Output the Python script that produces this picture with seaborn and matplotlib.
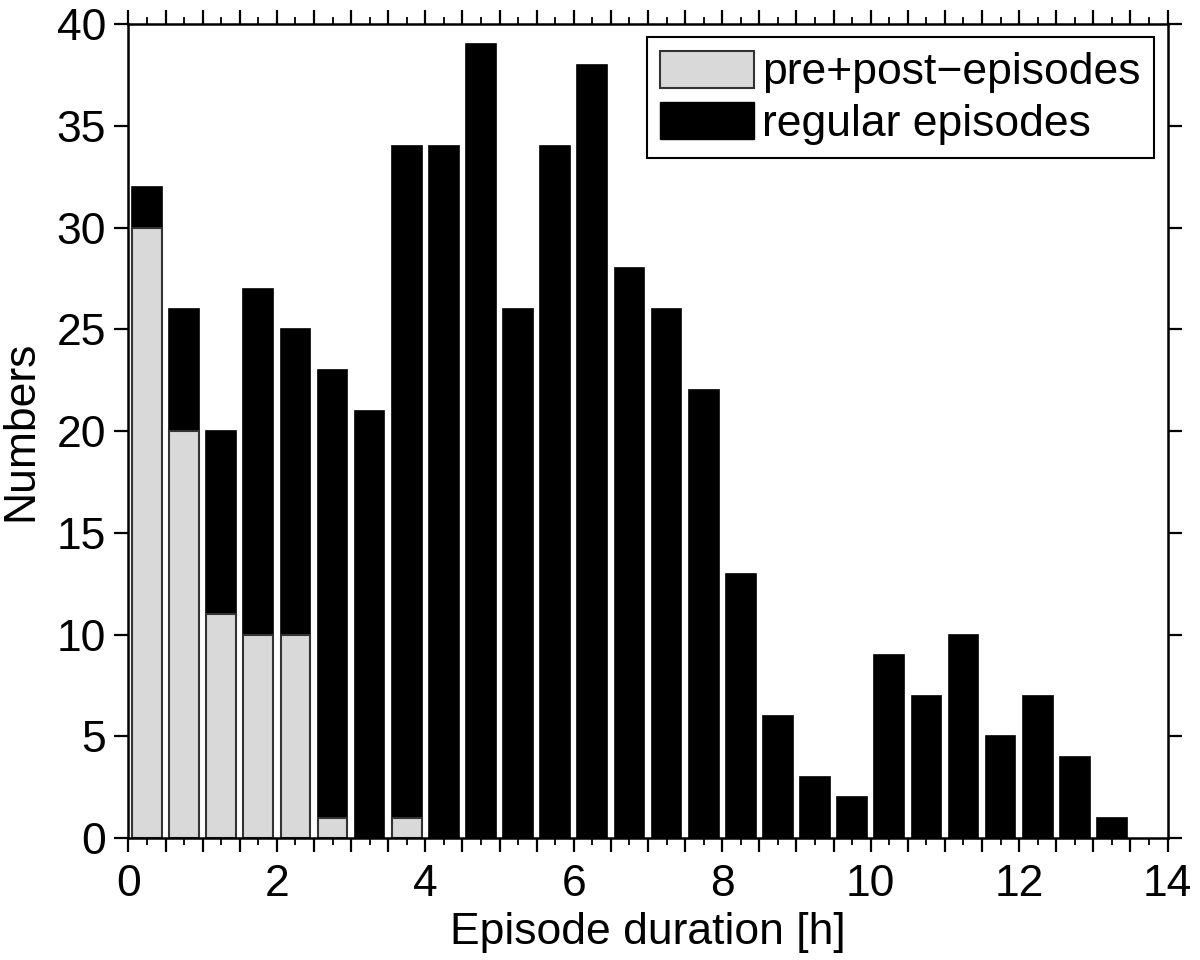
import numpy as np
import seaborn as sns
import matplotlib.pyplot as plt
from matplotlib.patches import Patch
from matplotlib.ticker import MultipleLocator, FuncFormatter

# episode duration bins (hours, bin centres, 0.5 h wide)
bin_centres = [0.25, 0.75, 1.25, 1.75, 2.25, 2.75, 3.25, 3.75, 4.25, 4.75,
               5.25, 5.75, 6.25, 6.75, 7.25, 7.75, 8.25, 8.75, 9.25, 9.75,
               10.25, 10.75, 11.25, 11.75, 12.25, 12.75, 13.25]
# total count per bin (regular + pre/post)
total_counts = [32, 26, 20, 27, 25, 23, 21, 34, 34, 39, 26, 34, 38, 28, 26,
                22, 13, 6, 3, 2, 9, 7, 10, 5, 7, 4, 1]
# pre+post-episode count per bin
pre_post_counts = [30, 20, 11, 10, 10, 1, 0, 1, 0, 0, 0, 0, 0, 0, 0, 0, 0, 0,
                   0, 0, 0, 0, 0, 0, 0, 0, 0]

sns.set_style("ticks")
plt.rcParams['font.family'] = ['Liberation Sans', 'DejaVu Sans']
# plain black text and axes like the original
for key in ['text.color', 'axes.labelcolor', 'xtick.color', 'ytick.color',
            'axes.edgecolor']:
    plt.rcParams[key] = 'black'

FS = 32

fig = plt.figure(figsize=(12, 9.6), dpi=100)
ax = fig.add_axes([0.107, 0.127, 0.866, 0.848])

# regular episodes: full bar height, pre+post drawn over the bottom part
sns.barplot(x=bin_centres, y=total_counts, native_scale=True, width=0.8,
            color="black", saturation=1, edgecolor="black", linewidth=1.2,
            errorbar=None, ax=ax)

pp_x = [c for c, v in zip(bin_centres, pre_post_counts) if v > 0]
pp_y = [v for v in pre_post_counts if v > 0]
sns.barplot(x=pp_x, y=pp_y, native_scale=True, width=0.8,
            color="#d9d9d9", saturation=1, edgecolor="#333333", linewidth=1.5,
            errorbar=None, ax=ax)

ax.set_xlim(0, 14)
ax.set_ylim(0, 40)
# long ticks every 0.5 h (labelled every 2 h), short ticks in between
ax.xaxis.set_major_locator(MultipleLocator(0.5))
ax.xaxis.set_major_formatter(FuncFormatter(
    lambda v, p: f"{v:.0f}" if abs(v / 2 - round(v / 2)) < 1e-6 else ""))
ax.xaxis.set_minor_locator(MultipleLocator(0.25))
ax.yaxis.set_major_locator(MultipleLocator(5))

for s in ax.spines.values():
    s.set_visible(True)
    s.set_linewidth(1.8)
    s.set_color("black")

ax.tick_params(axis="x", which="major", direction="out", length=10, width=1.6,
               top=True, bottom=True, labelsize=FS, pad=9)
ax.tick_params(axis="x", which="minor", direction="out", length=5, width=1.3,
               top=True, bottom=True)
ax.tick_params(axis="y", which="major", direction="out", length=10, width=1.6,
               left=True, right=True, labelsize=FS, pad=6)

ax.set_xlabel("Episode duration [h]", fontsize=FS, labelpad=5)
ax.set_ylabel("Numbers", fontsize=FS, labelpad=11)

handles = [Patch(facecolor="#d9d9d9", edgecolor="#333333", linewidth=1.5,
                 label="pre+post\u2212episodes"),
           Patch(facecolor="black", edgecolor="black",
                 label="regular episodes")]
leg = ax.legend(handles=handles, loc="upper right", fontsize=FS,
                fancybox=False, framealpha=1, edgecolor="black",
                handlelength=2.1, handleheight=0.9, handletextpad=0.2,
                borderpad=0.3, labelspacing=0.2, borderaxespad=0.3)
leg.get_frame().set_linewidth(1.5)

fig.savefig("out.png", dpi=100)
